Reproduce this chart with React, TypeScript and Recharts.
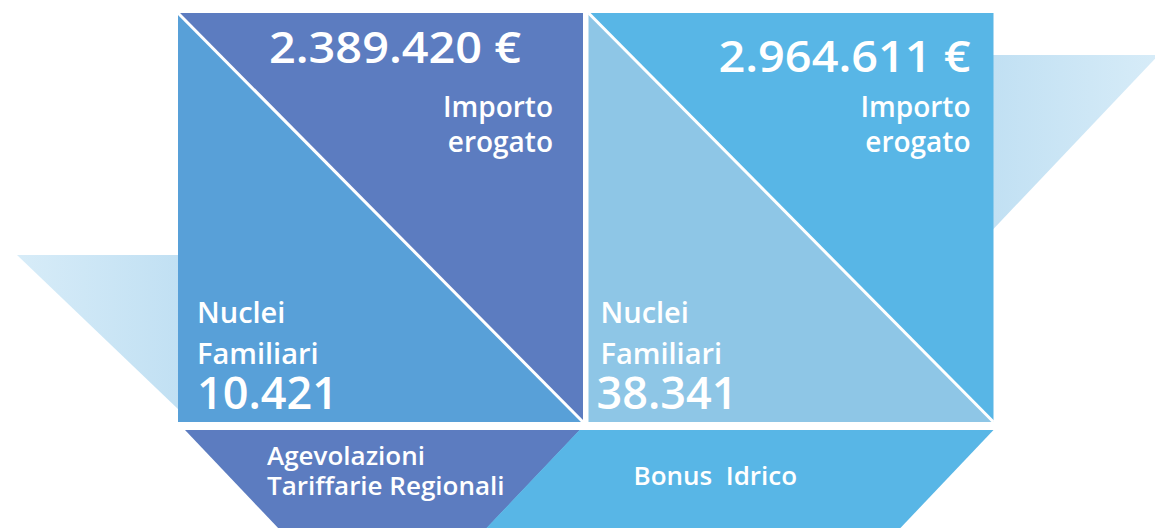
import { BarChart, Bar, XAxis, YAxis } from 'recharts'

const programmes = ['Agevolazioni Tariffarie Regionali', 'Bonus Idrico']
const programmeLabelLines = [['Agevolazioni', 'Tariffarie Regionali'], ['Bonus  Idrico']]
const importoErogato = [2389420, 2964611]
const nucleiFamiliari = [10421, 38341]
const tileShare = [1, 1]

const amountCaption = ['Importo', 'erogato']
const countCaption = ['Nuclei', 'Familiari']

const W = 1155
const H = 528
const FONT = "'Open Sans', 'DejaVu Sans', sans-serif"

const palette = [
  { upper: '#5c7cc0', lower: '#58a0d8', band: '#5c7cc0' },
  { upper: '#58b6e6', lower: '#8ec6e6', band: '#58b6e6' },
]

// text offsets relative to each tile (x, y, right edge, bottom edge)
const textPos = [
  { amountR: 62, amountY: 50, captionR: 30, leftX: 19, countX: 19, labelX: 89, labelY: [43, 73] },
  { amountR: 23, amountY: 59, captionR: 23, leftX: 12, countX: 8, labelX: 45, labelY: [63] },
]

const rows = programmes.map((name, i) => ({
  name,
  tile: tileShare[i],
  importo: importoErogato[i],
  nuclei: nucleiFamiliari[i],
}))

const fmt = (n: number) => String(n).replace(/\B(?=(\d{3})+(?!\d))/g, '.')

function Tile(props: any) {
  const { x, y, width, height, index, payload } = props
  const c = palette[index]
  const t = textPos[index]
  const r = x + width
  const b = y + height
  const bandTop = b + 8
  const d = (H - bandTop) * 0.95
  const first = index === 0

  const bg = first
    ? `${x - 161},${y + 242} ${x + 1},${y + 242} ${x + 1},${y + 397}`
    : `${r - 1},${y + 42} ${r + 165},${y + 42} ${r - 1},${y + 217}`

  const band = first
    ? `${x + 7},${bandTop} ${r - 3},${bandTop} ${r - 3 - d},${H} ${x + 7 + d},${H}`
    : `${x - 9},${bandTop} ${r},${bandTop} ${r - d},${H} ${x - 9 - d},${H}`

  const white = '#ffffff'
  return (
    <g fontFamily={FONT} fontWeight={600} fill={white}>
      <defs>
        <linearGradient id={`bg-${index}`} x1={first ? 0 : 1} y1="0" x2={first ? 1 : 0} y2="0">
          <stop offset="0%" stopColor="#d7ecf8" />
          <stop offset="100%" stopColor="#c1e0f3" />
        </linearGradient>
      </defs>
      <polygon points={bg} fill={`url(#bg-${index})`} />
      <polygon points={`${x},${y} ${r},${y} ${r},${b}`} fill={c.upper} />
      <polygon points={`${x},${y} ${x},${b} ${r},${b}`} fill={c.lower} />
      <line x1={x} y1={y} x2={r} y2={b} stroke={white} strokeWidth={3} />
      <polygon points={band} fill={c.band} />

      <text
        x={r - t.amountR}
        y={y + t.amountY}
        textAnchor="end"
        fontSize={44}
        textLength={252}
        lengthAdjust="spacingAndGlyphs"
      >
        {fmt(payload.importo)} €
      </text>
      {amountCaption.map((s, k) => (
        <text key={s} x={r - t.captionR} y={y + 104 + k * 35} textAnchor="end" fontSize={28}>
          {s}
        </text>
      ))}
      {countCaption.map((s, k) => (
        <text key={s} x={x + t.leftX} y={y + 310 + k * 41} fontSize={29}>
          {s}
        </text>
      ))}
      <text x={x + t.countX} y={b - 13} fontSize={45}>
        {fmt(payload.nuclei)}
      </text>
      {programmeLabelLines[index].map((s, k) => (
        <text key={s} x={x + t.labelX} y={b + t.labelY[k]} fontSize={26} style={{ whiteSpace: 'pre' }}>
          {s}
        </text>
      ))}
    </g>
  )
}

export default function App() {
  return (
    <div style={{ position: 'absolute', left: 0, top: 0, width: W, height: H, background: '#fff' }}>
      <BarChart
        width={W}
        height={H}
        data={rows}
        margin={{ top: 13, right: 159, left: 175, bottom: 106 }}
        barCategoryGap={3}
      >
        <XAxis dataKey="name" type="category" hide />
        <YAxis type="number" domain={[0, 1]} hide />
        <Bar dataKey="tile" shape={Tile} isAnimationActive={false} />
      </BarChart>
    </div>
  )
}
